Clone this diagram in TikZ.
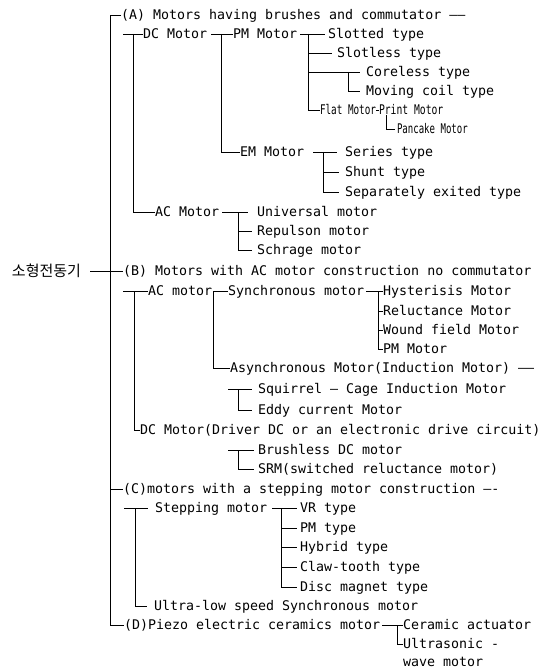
\documentclass[tikz,border=0pt]{standalone}
\usepackage{fontspec}
\usepackage{graphicx}
\newfontfamily\monofam{DejaVu Sans Mono}
\newfontfamily\krfam{Noto Sans CJK KR}
\tikzset{
  lbl/.style={anchor=west, inner sep=0pt, outer sep=0pt, font=\monofam\fontsize{13.3}{15}\selectfont, text height=9.6pt, text depth=0pt},
  krlbl/.style={anchor=west, inner sep=0pt, outer sep=0pt, font=\krfam\fontsize{15}{17}\selectfont, text height=11.4pt, text depth=0pt},
  conn/.style={line width=0.8pt, black}
}
\begin{document}
\begin{tikzpicture}[x=1pt,y=-1pt]
\useasboundingbox (0,0) rectangle (547,671);
\fill[white] (0,0) rectangle (547,671);
% spine x positions
\coordinate (tr) at (110,0);
\coordinate (s1) at (133,0);
\coordinate (s2) at (221,0);
\coordinate (s3) at (308,0);
\coordinate (s4) at (348,0);
\coordinate (s5) at (386,0);
\coordinate (s6) at (323,0);
\coordinate (s7) at (238,0);
\coordinate (s8) at (134,0);
\coordinate (s9) at (213,0);
\coordinate (s10) at (378,0);
\coordinate (s11) at (238,0);
\coordinate (s12) at (135,0);
\coordinate (s13) at (281,0);
\coordinate (s14) at (397,0);
% nodes
\node[krlbl] (kr) at (12,271) {소형전동기};
\node[lbl] (A) at (121,15) {(A) Motors having brushes and commutator ——};
\node[lbl] (dc) at (143,34) {DC Motor};
\node[lbl] (pm) at (233,34) {PM Motor};
\node[lbl] (slotted) at (328,34) {Slotted type};
\node[lbl] (slotless) at (337,53) {Slotless type};
\node[lbl] (coreless) at (366,72) {Coreless type};
\node[lbl] (moving) at (366,91) {Moving coil type};
\node[lbl] (flat) at (320,110) {\scalebox{0.7}[1]{Flat Motor}};
\node[lbl] (print) at (379,110) {\scalebox{0.73}[1]{Print Motor}};
\node[lbl] (pancake) at (397,129) {\scalebox{0.68}[1]{Pancake Motor}};
\node[lbl] (em) at (240,152) {EM Motor};
\node[lbl] (series) at (345,152) {Series type};
\node[lbl] (shunt) at (345,172) {Shunt type};
\node[lbl] (sep) at (345,192) {Separately exited type};
\node[lbl] (acA) at (155,212) {AC Motor};
\node[lbl] (univ) at (257,212) {Universal motor};
\node[lbl] (rep) at (257,231) {Repulson motor};
\node[lbl] (sch) at (257,250) {Schrage motor};
\node[lbl] (B) at (123,271) {(B) Motors with AC motor construction no commutator};
\node[lbl] (acB) at (148,291) {AC motor};
\node[lbl] (sync) at (228,291) {Synchronous motor};
\node[lbl] (hyst) at (383,291) {Hysterisis Motor};
\node[lbl] (rel) at (383,311) {Reluctance Motor};
\node[lbl] (wound) at (383,330) {Wound field Motor};
\node[lbl] (pmm) at (383,349) {PM Motor};
\node[lbl] (async) at (230,368) {Asynchronous Motor(Induction Motor) ——};
\node[lbl] (squ) at (258,389) {Squirrel — Cage Induction Motor};
\node[lbl] (eddy) at (258,410) {Eddy current Motor};
\node[lbl] (dcd) at (140,430) {DC Motor(Driver DC or an electronic drive circuit)};
\node[lbl] (bl) at (258,450) {Brushless DC motor};
\node[lbl] (srm) at (258,469) {SRM(switched reluctance motor)};
\node[lbl] (C) at (123,489) {(C)motors with a stepping motor construction —-};
\node[lbl] (step) at (155,508) {Stepping motor};
\node[lbl] (vr) at (300,508) {VR type};
\node[lbl] (pmt) at (300,528) {PM type};
\node[lbl] (hyb) at (300,547) {Hybrid type};
\node[lbl] (claw) at (300,567) {Claw-tooth type};
\node[lbl] (disc) at (300,587) {Disc magnet type};
\node[lbl] (ultra) at (154,606) {Ultra-low speed Synchronous motor};
\node[lbl] (D) at (124,625) {(D)Piezo electric ceramics motor};
\node[lbl] (cer) at (403,625) {Ceramic actuator};
\node[lbl] (ultras) at (403,644) {Ultrasonic -};
\node[lbl] (wave) at (403,662) {wave motor};
% trunk
\draw[conn] (A.west) -- (A.west -| tr) -- (D.west -| tr) -- (D.west);
\draw[conn] ([xshift=9pt]kr.east) -- (B.west);
\draw[conn] (C.west -| tr) -- (C.west);
% (A) group
\draw[conn] ([xshift=-20pt]dc.west) -- (dc.west);
\draw[conn] (dc.west -| s1) |- (acA.west);
\draw[conn] ([xshift=4pt]dc.east) -- (pm.west);
\draw[conn] (pm.west -| s2) |- (em.west);
\draw[conn] ([xshift=3pt]pm.east) -- ([xshift=-3pt]slotted.west);
\draw[conn] (pm.west -| s3) |- (flat.west);
\draw[conn] (slotless.west -| s3) -- ([xshift=-5pt]slotless.west);
\draw[conn] (coreless.west -| s3) -- ([xshift=-6pt]coreless.west);
\draw[conn] (coreless.west -| s4) |- ([xshift=-6pt]moving.west);
\draw[conn] (flat.east) -- (print.west);
\draw[conn] (print.south -| s5) |- ([xshift=-2pt]pancake.west);
\draw[conn] ([xshift=9pt]em.east) -- ([xshift=-8pt]series.west);
\draw[conn] (series.west -| s6) |- ([xshift=-6pt]sep.west);
\draw[conn] (shunt.west -| s6) -- ([xshift=-6pt]shunt.west);
\draw[conn] ([xshift=3pt]acA.east) -- ([xshift=-9pt]univ.west);
\draw[conn] (univ.west -| s7) |- ([xshift=-5pt]sch.west);
\draw[conn] (rep.west -| s7) -- ([xshift=-5pt]rep.west);
% (B) group
\draw[conn] ([xshift=-25pt]acB.west) -- (acB.west);
\draw[conn] (acB.west -| s8) |- (dcd.west);
\draw[conn] (sync.west) -- (sync.west -| s9) |- (async.west);
\draw[conn] ([xshift=2pt]sync.east) -- (hyst.west);
\draw[conn] (hyst.west -| s10) |- (pmm.west);
\draw[conn] (rel.west -| s10) -- (rel.west);
\draw[conn] (wound.west -| s10) -- (wound.west);
\draw[conn] ([xshift=-30pt]squ.west) -- ([xshift=-6pt]squ.west);
\draw[conn] (squ.west -| s11) |- ([xshift=-6pt]eddy.west);
\draw[conn] ([xshift=-30pt]bl.west) -- ([xshift=-4pt]bl.west);
\draw[conn] (bl.west -| s11) |- ([xshift=-4pt]srm.west);
% (C) group
\draw[conn] ([xshift=-31pt]step.west) -- ([xshift=-7pt]step.west);
\draw[conn] (step.west -| s12) |- ([xshift=-7pt]ultra.west);
\draw[conn] ([xshift=5pt]step.east) -- ([xshift=-3pt]vr.west);
\draw[conn] (vr.west -| s13) |- ([xshift=-3pt]disc.west);
\draw[conn] (pmt.west -| s13) -- ([xshift=-3pt]pmt.west);
\draw[conn] (hyb.west -| s13) -- ([xshift=-3pt]hyb.west);
\draw[conn] (claw.west -| s13) -- ([xshift=-3pt]claw.west);
% (D) group
\draw[conn] ([xshift=2pt]D.east) -- (cer.west);
\draw[conn] (cer.west -| s14) |- (ultras.west);
\end{tikzpicture}
\end{document}
